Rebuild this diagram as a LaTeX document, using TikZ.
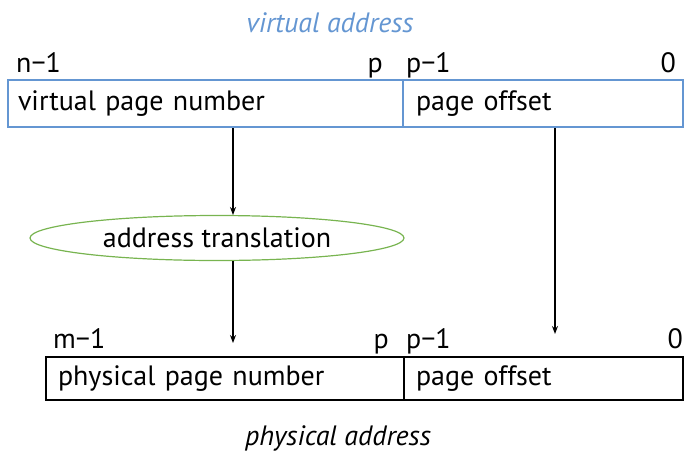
\documentclass[tikz,border=0pt]{standalone}
\usepackage{fontspec}
\setmainfont{PT Sans}
\usetikzlibrary{shapes.geometric,arrows.meta}
\definecolor{vblue}{RGB}{100,150,210}
\definecolor{tgreen}{RGB}{120,180,80}
\tikzset{
  cell/.style={draw, minimum height=#1, inner ysep=0pt, align=left, font=\fontsize{28}{32}\selectfont},
  lbl/.style={font=\fontsize{28}{32}\selectfont, inner sep=0pt},
  arr/.style={-{Stealth[length=8pt,width=6pt]}, line width=1.3pt},
}
\begin{document}
\begin{tikzpicture}[x=1pt,y=-1pt]
\useasboundingbox (0,0) rectangle (690,461);
% top
\node[lbl, text=vblue, font=\fontsize{28}{32}\selectfont\itshape] (va) at (330,23) {virtual address};
\node[cell=47pt, draw=vblue, line width=1.5pt, minimum width=395pt, text width=375pt, inner xsep=10pt] (vpn) at (205.5,103.5) {virtual page number};
\node[cell=47pt, draw=vblue, line width=1.5pt, minimum width=280pt, text width=254pt, inner xsep=13pt] (vpo) at (543,103.5) {page offset};
\node[lbl, anchor=base west] (n1) at (16,72) {n−1};
\node[lbl, anchor=base east] (vp) at (383,72) {p};
\node[lbl, anchor=base west] (vp1) at (406,72) {p−1};
\node[lbl, anchor=base east] (v0) at (676,72) {0};
% ellipse
\node[ellipse, draw=tgreen, line width=1.2pt, minimum width=374pt, minimum height=45pt, lbl] (at) at (217,238) {address translation};
% bottom
\node[cell=43pt, draw=black, line width=1.2pt, minimum width=358pt, text width=334pt, inner xsep=12pt] (ppn) at (225,378.5) {physical page number};
\node[cell=43pt, draw=black, line width=1.2pt, minimum width=279pt, text width=255pt, inner xsep=12pt] (ppo) at (543.5,378.5) {page offset};
\node[lbl, anchor=base west] (m1) at (53,348) {m−1};
\node[lbl, anchor=base east] (pp) at (389,348) {p};
\node[lbl, anchor=base west] (pp1) at (406,348) {p−1};
\node[lbl, anchor=base east] (p0) at (683,348) {0};
\node[lbl, font=\fontsize{28}{32}\selectfont\itshape] (pa) at (338,438) {physical address};
% arrows
\coordinate (a1s) at (233,128);
\coordinate (a1e) at (233,215);
\coordinate (a2s) at (233,261);
\coordinate (a2e) at (233,343);
\coordinate (a3s) at (555,128);
\coordinate (a3e) at (555,334);
\draw[arr] (a1s) -- (a1e);
\draw[arr] (a2s) -- (a2e);
\draw[arr] (a3s) -- (a3e);
\end{tikzpicture}
\end{document}
